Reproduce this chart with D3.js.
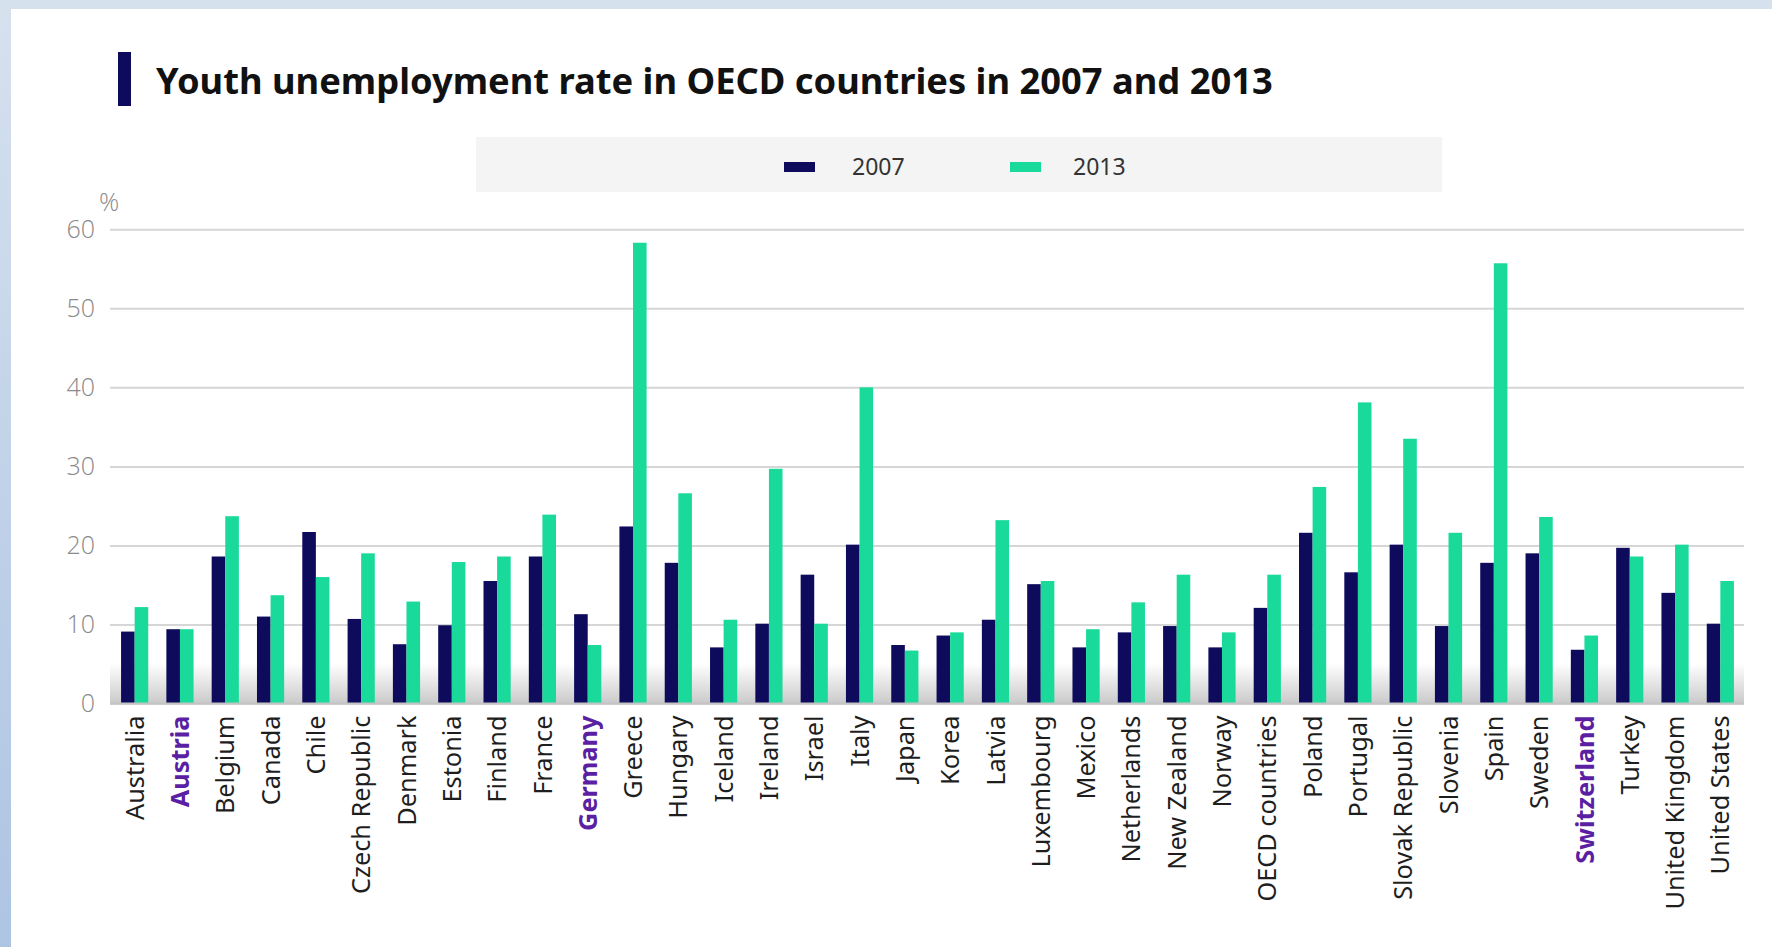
<!DOCTYPE html>
<html>
<head>
<meta charset="utf-8">
<script src="https://cdn.jsdelivr.net/npm/d3@7"></script>
<style>
  html, body { margin: 0; padding: 0; background: #d6e1ee; }
  svg { display: block; }
</style>
</head>
<body>
<svg id="chart" width="1772" height="947"></svg>
<script>
// Youth unemployment rate (%) by OECD country
const countries = [
  "Australia", "Austria", "Belgium", "Canada", "Chile", "Czech Republic",
  "Denmark", "Estonia", "Finland", "France", "Germany", "Greece", "Hungary",
  "Iceland", "Ireland", "Israel", "Italy", "Japan", "Korea", "Latvia",
  "Luxembourg", "Mexico", "Netherlands", "New Zealand", "Norway",
  "OECD countries", "Poland", "Portugal", "Slovak Republic", "Slovenia",
  "Spain", "Sweden", "Switzerland", "Turkey", "United Kingdom", "United States"
];
const rate2007 = [
  9.1, 9.4, 18.6, 11.0, 21.7, 10.7,
  7.5, 9.9, 15.5, 18.6, 11.3, 22.4, 17.8,
  7.1, 10.1, 16.3, 20.1, 7.4, 8.6, 10.6,
  15.1, 7.1, 9.0, 9.8, 7.1,
  12.1, 21.6, 16.6, 20.1, 9.8,
  17.8, 19.0, 6.8, 19.7, 14.0, 10.1
];
const rate2013 = [
  12.2, 9.4, 23.7, 13.7, 16.0, 19.0,
  12.9, 17.9, 18.6, 23.9, 7.4, 58.3, 26.6,
  10.6, 29.7, 10.1, 40.0, 6.7, 9.0, 23.2,
  15.5, 9.4, 12.8, 16.3, 9.0,
  16.3, 27.4, 38.1, 33.5, 21.6,
  55.7, 23.6, 8.6, 18.6, 20.1, 15.5
];
const seriesNames = ["2007", "2013"];
const highlighted = ["Austria", "Germany", "Switzerland"];
const yTicks = [0, 10, 20, 30, 40, 50, 60];
const titleText = "Youth unemployment rate in OECD countries in 2007 and 2013";

const colors = { "2007": "#0e0b5c", "2013": "#19da9a" };
const seriesValues = { "2007": rate2007, "2013": rate2013 };

const svg = d3.select("#chart");
const W = 1772, H = 947;

// page backdrop: pale blue frame with a white card
const defs = svg.append("defs");
const sideGrad = defs.append("linearGradient").attr("id", "sideGrad")
  .attr("x1", 0).attr("y1", 0).attr("x2", 0).attr("y2", 1);
sideGrad.append("stop").attr("offset", "0%").attr("stop-color", "#d6e1ee");
sideGrad.append("stop").attr("offset", "100%").attr("stop-color", "#adc4e3");
svg.append("rect").attr("width", W).attr("height", H).attr("fill", "#d6e1ee");
svg.append("rect").attr("x", 0).attr("y", 0).attr("width", 12).attr("height", H).attr("fill", "url(#sideGrad)");
svg.append("rect").attr("x", 11).attr("y", 9).attr("width", W - 11).attr("height", H - 9).attr("fill", "#ffffff");

// title with accent bar
svg.append("rect").attr("x", 118).attr("y", 52).attr("width", 13).attr("height", 54).attr("fill", "#0e0b5c");
const title = svg.append("text")
  .attr("x", 156).attr("y", 94)
  .attr("font-family", "'Noto Sans', 'Open Sans', sans-serif")
  .attr("font-weight", 700)
  .attr("font-size", 34)
  .attr("fill", "#111")
  .text(titleText);
const tw = title.node().getComputedTextLength();
title.attr("font-size", 34 * 1117 / tw);

// legend
const legend = svg.append("g");
legend.append("rect").attr("x", 476).attr("y", 137).attr("width", 966).attr("height", 55).attr("fill", "#f4f4f4");
const legendSwatchX = d3.scalePoint().domain(seriesNames).range([784, 1010]);
const legendTextX = d3.scalePoint().domain(seriesNames).range([852, 1073]);
seriesNames.forEach(name => {
  legend.append("rect")
    .attr("x", legendSwatchX(name)).attr("y", 162).attr("width", 31).attr("height", 10)
    .attr("fill", colors[name]);
  legend.append("text")
    .attr("x", legendTextX(name)).attr("y", 175)
    .attr("font-family", "'Noto Sans', 'Open Sans', sans-serif")
    .attr("font-size", 23)
    .attr("fill", "#333")
    .text(name);
});

// scales
const plotLeft = 110, plotRight = 1744;
const x0 = d3.scaleBand().domain(countries).range([112, 1743]).paddingInner(0.4).paddingOuter(0.2);
const x1 = d3.scaleBand().domain(seriesNames).range([0, x0.bandwidth()]);
const y = d3.scaleLinear().domain([0, 60]).range([703.5, 229.3]);

// gridlines and y labels
const yAxis = svg.append("g")
  .attr("transform", `translate(${plotLeft},0)`)
  .call(d3.axisLeft(y).tickValues(yTicks).tickSize(-(plotRight - plotLeft)).tickPadding(15));
yAxis.select(".domain").remove();
yAxis.selectAll(".tick line").attr("stroke", "#d6d6d6").attr("stroke-width", 2);
yAxis.selectAll(".tick text")
  .attr("font-family", "'Open Sans', 'Noto Sans', sans-serif")
  .attr("font-weight", 300)
  .attr("font-size", 25)
  .attr("fill", "#8a8a8a");

svg.append("text")
  .attr("x", 99).attr("y", 211)
  .attr("font-family", "'Open Sans', 'Noto Sans', sans-serif")
  .attr("font-weight", 300)
  .attr("font-size", 25)
  .attr("fill", "#8a8a8a")
  .text("%");

// soft shading along the base of the plot
const baseGrad = defs.append("linearGradient").attr("id", "baseGrad")
  .attr("x1", 0).attr("y1", 0).attr("x2", 0).attr("y2", 1);
baseGrad.append("stop").attr("offset", "0%").attr("stop-color", "#b8b8b8").attr("stop-opacity", 0);
baseGrad.append("stop").attr("offset", "100%").attr("stop-color", "#b8b8b8").attr("stop-opacity", 0.75);
svg.append("rect")
  .attr("x", plotLeft).attr("y", y(0) - 40)
  .attr("width", plotRight - plotLeft).attr("height", 40)
  .attr("fill", "url(#baseGrad)");

// bars
const rows = countries.map((c, i) => ({ country: c, values: seriesNames.map(s => ({ key: s, value: seriesValues[s][i] })) }));
const groups = svg.append("g").selectAll("g").data(rows).join("g")
  .attr("transform", d => `translate(${x0(d.country)},0)`);
groups.selectAll("rect").data(d => d.values).join("rect")
  .attr("x", d => x1(d.key))
  .attr("y", d => y(d.value))
  .attr("width", x1.bandwidth())
  .attr("height", d => y(0) - y(d.value))
  .attr("fill", d => colors[d.key]);

// baseline
svg.append("line")
  .attr("x1", plotLeft).attr("x2", plotRight)
  .attr("y1", y(0)).attr("y2", y(0))
  .attr("stroke", "#c4c4c4").attr("stroke-width", 2);

// category labels
const xAxis = svg.append("g")
  .attr("transform", `translate(0,${y(0)})`)
  .call(d3.axisBottom(x0).tickSize(0));
xAxis.select(".domain").remove();
xAxis.selectAll(".tick text")
  .attr("transform", "rotate(-90)")
  .attr("x", -12)
  .attr("y", 0)
  .attr("dy", "0.36em")
  .attr("text-anchor", "end")
  .attr("font-family", "'Noto Sans', 'Open Sans', sans-serif")
  .attr("font-size", 25.3)
  .attr("font-weight", d => highlighted.includes(d) ? 700 : 400)
  .attr("fill", d => highlighted.includes(d) ? "#5a1fa3" : "#1e1e1e");
</script>
</body>
</html>
